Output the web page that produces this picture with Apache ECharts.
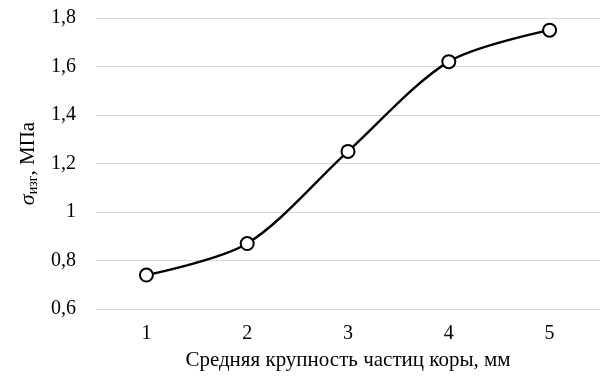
<!DOCTYPE html>
<html>
<head>
<meta charset="utf-8">
<script src="https://cdn.jsdelivr.net/npm/echarts@6/dist/echarts.min.js"></script>
<style>
  html, body { margin: 0; padding: 0; background: #fff; }
  #chart { width: 615px; height: 390px; }
</style>
</head>
<body>
<div id="chart"></div>
<script>
const sizes = ['1', '2', '3', '4', '5']
const strength = [0.74, 0.87, 1.25, 1.62, 1.75]
const yMin = 0.6
const yMax = 1.8
const yStep = 0.2

const font = '"Liberation Serif", "DejaVu Serif", serif'
const chart = echarts.init(document.getElementById('chart'))

chart.setOption({
  backgroundColor: '#fff',
  animation: false,
  grid: { left: 96, right: 15, top: 18, bottom: 81 },
  xAxis: {
    type: 'category',
    data: sizes,
    boundaryGap: true,
    axisLine: { show: false },
    axisTick: { show: false },
    axisLabel: { color: '#000', fontFamily: font, fontSize: 20, margin: 15 },
    name: 'Средняя крупность частиц коры, мм',
    nameLocation: 'middle',
    nameGap: 41,
    nameTextStyle: { color: '#000', fontFamily: font, fontSize: 21 },
  },
  yAxis: {
    type: 'value',
    min: yMin,
    max: yMax,
    interval: yStep,
    axisLine: { show: false },
    axisTick: { show: false },
    splitLine: { lineStyle: { color: '#d9d9d9', width: 1 } },
    axisLabel: {
      color: '#000',
      fontFamily: font,
      fontSize: 20,
      margin: 20,
      formatter: (v) => String(Math.round(v * 10) / 10).replace('.', ','),
    },
    name: '{s|σ}{sub|изг}{t|, МПа}',
    nameLocation: 'middle',
    nameRotate: 90,
    nameGap: 50,
    nameTextStyle: {
      color: '#000',
      fontFamily: font,
      fontSize: 21,
      rich: {
        s: { fontFamily: font, fontSize: 22, fontStyle: 'italic', color: '#000' },
        sub: { fontFamily: font, fontSize: 14, color: '#000', verticalAlign: 'bottom', padding: [10, 0, 0, 0] },
        t: { fontFamily: font, fontSize: 21, color: '#000' },
      },
    },
  },
  series: [
    {
      type: 'line',
      data: strength,
      smooth: 0.3,
      symbol: 'circle',
      symbolSize: 13,
      lineStyle: { color: '#000', width: 2.4 },
      itemStyle: { color: '#fff', borderColor: '#000', borderWidth: 2 },
    },
  ],
})
</script>
</body>
</html>
